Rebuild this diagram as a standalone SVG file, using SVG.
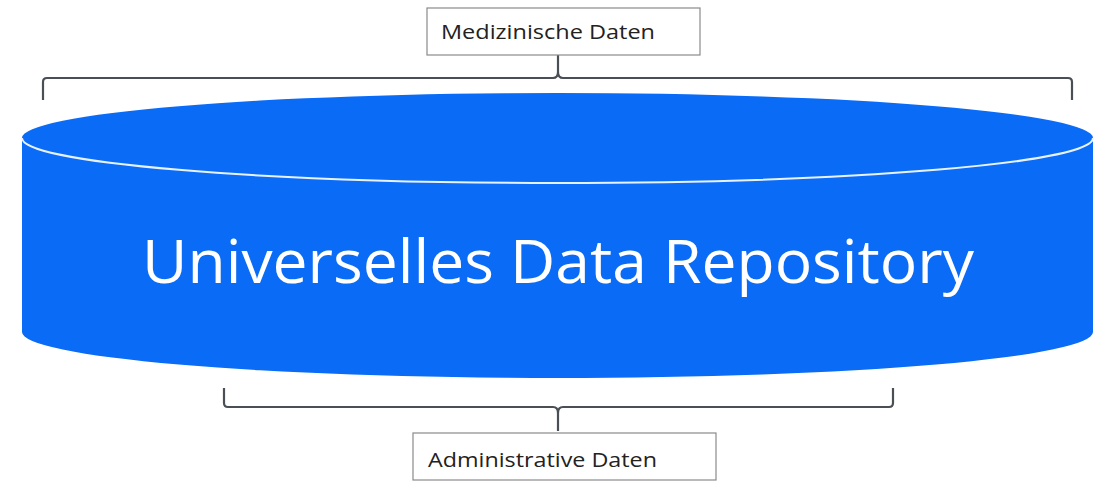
<svg xmlns="http://www.w3.org/2000/svg" width="1102" height="482" viewBox="0 0 1102 482">
<style>
.box{fill:#ffffff;stroke:#8a8a8a;stroke-width:1.2}
.lbl{font-family:"Open Sans","Liberation Sans",sans-serif;font-size:20px;fill:#222}
.brace{fill:none;stroke:#4a4f55;stroke-width:2.2;stroke-linejoin:round}
.cyl{fill:#0a6cf6}
</style>
<rect width="1102" height="482" fill="#ffffff"/>
<g id="cylinder">
<path class="cyl" d="M22,138 L22,332 A535.5,46 0 0 0 1093,332 L1093,138 A535.5,45 0 0 0 22,138 Z"/>
<path d="M22,138 A535.5,45 0 0 0 1093,138" fill="none" stroke="#e8f2ff" stroke-width="2"/>
<text x="558" y="283" text-anchor="middle" textLength="832" lengthAdjust="spacingAndGlyphs" font-family="'Open Sans','Liberation Sans',sans-serif" font-size="60" fill="#ffffff">Universelles Data Repository</text>
</g>
<g id="connectors">
<path class="brace" d="M43,100 L43,82 Q43,78 47,78 L553,78 Q558,78 558,72 L558,55 M558,72 Q558,78 563,78 L1068,78 Q1072,78 1072,82 L1072,100"/>
<path class="brace" d="M224,388 L224,403 Q224,407 228,407 L553,407 Q558,407 558,413 L558,431 M558,413 Q558,407 563,407 L889,407 Q893,407 893,403 L893,388"/>
</g>
<g id="medizinische">
<rect class="box" x="427" y="8" width="273" height="47"/>
<text class="lbl" x="441" y="39" textLength="214" lengthAdjust="spacingAndGlyphs">Medizinische Daten</text>
</g>
<g id="administrative">
<rect class="box" x="413" y="433" width="303" height="47"/>
<text class="lbl" x="428" y="467" textLength="229" lengthAdjust="spacingAndGlyphs">Administrative Daten</text>
</g>
</svg>
